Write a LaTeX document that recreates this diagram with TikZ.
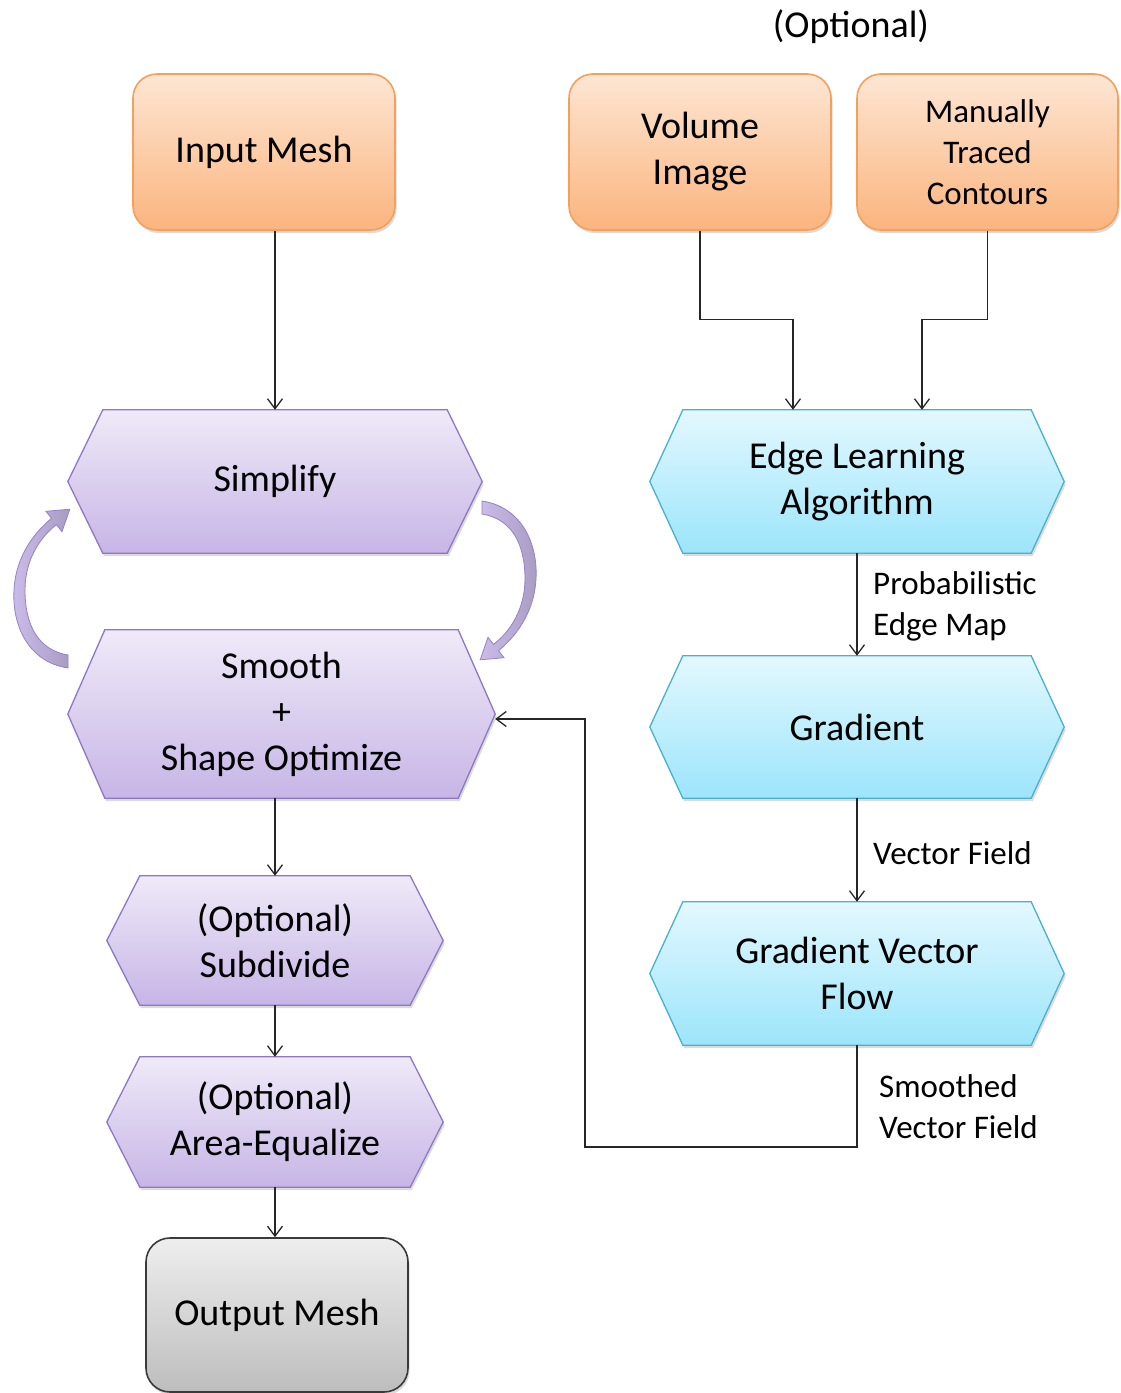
\documentclass[tikz,border=0pt]{standalone}
\usepackage{fontspec}
\setmainfont{Carlito}
\usetikzlibrary{arrows.meta,shadows,backgrounds,calc}

\definecolor{orTop}{HTML}{FDE6D3}
\definecolor{orBot}{HTML}{FBB47E}
\definecolor{orLine}{HTML}{F5A05A}
\definecolor{puTop}{HTML}{EFEAF8}
\definecolor{puBot}{HTML}{C7B5E6}
\definecolor{puLine}{HTML}{8E77C4}
\definecolor{cyTop}{HTML}{E3F8FE}
\definecolor{cyBot}{HTML}{9CE5FB}
\definecolor{cyLine}{HTML}{4BB0D0}
\definecolor{gyTop}{HTML}{EEEEEE}
\definecolor{gyBot}{HTML}{BDBDBD}
\definecolor{gyLine}{HTML}{3A3A3A}
\definecolor{loopLight}{HTML}{CBBCEA}
\definecolor{loopDark}{HTML}{A89CC2}
\definecolor{loopLine}{HTML}{9582C4}

% hexagonal box drawn from the anchors of a plain rectangular node
\newcommand\hexfill[3]{%
  \path[#3] (#1.west) -- ([xshift=#2]#1.north west) -- ([xshift=-#2]#1.north east)
    -- (#1.east) -- ([xshift=-#2]#1.south east) -- ([xshift=#2]#1.south west) -- cycle;}

% curved block arrow of the Simplify/Smooth loop
\newcommand\looparrow[1]{%
  \path[loopshape,#1] (68,668) .. controls (28,662) and (12,625) .. (14,590)
    .. controls (16,555) and (35,532) .. (51.5,518.3) -- (46,511.3) -- (69.8,509.2)
    -- (62,531.7) -- (56.5,524.7) .. controls (40,537) and (25,560) .. (25,590)
    .. controls (25,625) and (38,650) .. (68,655) -- cycle;}

\tikzset{
  mainfont/.style={font=\fontsize{38}{46}\selectfont},
  smallfont/.style={font=\fontsize{33}{41}\selectfont},
  soft shadow/.style={drop shadow={shadow xshift=1.5pt,shadow yshift=-3pt,opacity=0.28}},
  rbox/.style={rectangle, rounded corners=24pt, line width=1.6pt, align=center,
    inner sep=0pt, soft shadow, mainfont},
  orangebox/.style={rbox, draw=orLine, top color=orTop, bottom color=orBot},
  graybox/.style={rbox, draw=gyLine, top color=gyTop, bottom color=gyBot},
  hexnode/.style={rectangle, inner sep=0pt, align=center, mainfont},
  purplehex/.style={draw=puLine, line width=1.3pt, top color=puTop, bottom color=puBot, soft shadow},
  cyanhex/.style={draw=cyLine, line width=1.3pt, top color=cyTop, bottom color=cyBot, soft shadow},
  conn/.style={draw=black!85, line width=1.3pt, -{Straight Barb[length=10pt,width=15pt]}},
  edgelabel/.style={smallfont, align=left, inner sep=0pt, anchor=west},
  loopshape/.style={draw=loopLine, line width=0.8pt, left color=loopLight, right color=loopDark},
}

\begin{document}
\begin{tikzpicture}[x=1pt,y=-1pt]
\useasboundingbox (0,0) rectangle (1120,1393);

% ---- source boxes ----
\node[mainfont] (opt) at (851,27) {(Optional)};
\node[orangebox, minimum width=262pt, minimum height=156pt] (inmesh) at (264,152) {Input Mesh};
\node[orangebox, minimum width=262pt, minimum height=156pt] (volimg) at (700,152) {Volume\\Image};
\node[orangebox, smallfont, minimum width=261pt, minimum height=156pt] (manual) at (987.5,152) {Manually\\Traced\\Contours};

% ---- mesh pipeline (left) ----
\node[hexnode, minimum width=414pt, minimum height=143pt] (simp) at (275,481.5) {Simplify};
\node[hexnode, minimum width=427pt, minimum height=168pt] (smooth) at (281.5,714) {Smooth\\+\\Shape Optimize};
\node[hexnode, minimum width=336pt, minimum height=129pt] (subdiv) at (275,940.5) {(Optional)\\Subdivide};
\node[hexnode, minimum width=336pt, minimum height=130pt] (areaeq) at (275,1122) {(Optional)\\Area-Equalize};
\node[graybox, minimum width=262pt, minimum height=154pt] (outmesh) at (277,1315) {Output Mesh};

% ---- image pipeline (right) ----
\node[hexnode, minimum width=414pt, minimum height=143pt] (edge) at (857,481.5) {Edge Learning\\Algorithm};
\node[hexnode, minimum width=414pt, minimum height=142pt] (grad) at (857,727) {Gradient};
\node[hexnode, minimum width=414pt, minimum height=143pt] (gvf) at (857,973.5) {Gradient Vector\\Flow};

\begin{pgfonlayer}{background}
  \fill[white] (0,0) rectangle (1120,1393);
  \hexfill{simp}{35pt}{purplehex}
  \hexfill{smooth}{37pt}{purplehex}
  \hexfill{subdiv}{33pt}{purplehex}
  \hexfill{areaeq}{33pt}{purplehex}
  \hexfill{edge}{33pt}{cyanhex}
  \hexfill{grad}{33pt}{cyanhex}
  \hexfill{gvf}{33pt}{cyanhex}
\end{pgfonlayer}

% ---- edge labels ----
\node[edgelabel] (lprob) at (873,606) {Probabilistic\\Edge Map};
\node[edgelabel] (lvec) at (873,853) {Vector Field};
\node[edgelabel] (lsmv) at (879,1107) {Smoothed\\Vector Field};

% ---- connectors ----
\draw[conn] (simp.north |- inmesh.south) -- (simp.north);
\draw[conn] (volimg.south) |- ([xshift=-64pt,yshift=90pt]edge.north) -- ([xshift=-64pt]edge.north);
\draw[conn] (manual.south) |- ([xshift=65pt,yshift=90pt]edge.north) -- ([xshift=65pt]edge.north);
\draw[conn] (edge.south) -- (grad.north);
\draw[conn] (grad.south) -- (gvf.north);
\coordinate (fb) at (585,1147);
\draw[conn] (gvf.south) |- (fb) |- ([yshift=-5pt]smooth.east);
\draw[conn] (subdiv.north |- smooth.south) -- (subdiv.north);
\draw[conn] (subdiv.south) -- (areaeq.north);
\draw[conn] (areaeq.south) -- (areaeq.south |- outmesh.north);

% ---- iteration loop between Simplify and Smooth ----
\looparrow{}
\looparrow{rotate around={180:(275,584.5)}}
\end{tikzpicture}
\end{document}
